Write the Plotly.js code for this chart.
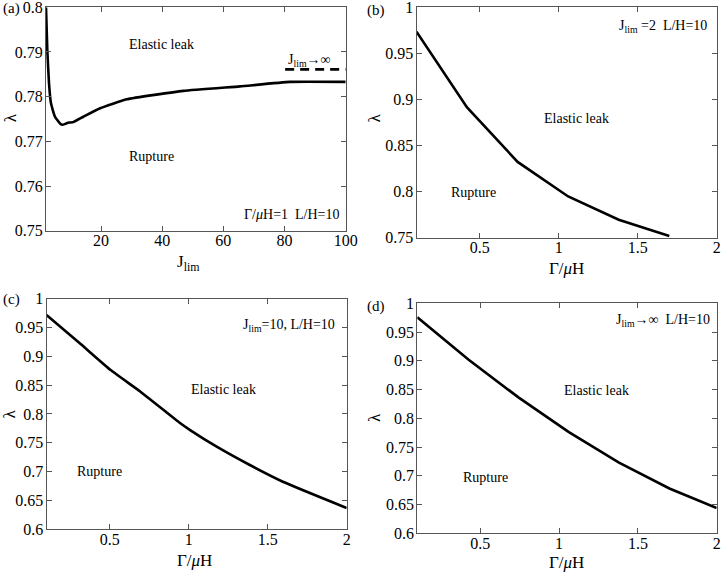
<!DOCTYPE html>
<html><head><meta charset="utf-8">
<script src="https://cdn.plot.ly/plotly-3.0.1.min.js"></script>
<style>body{margin:0;background:#fff}#g{width:722px;height:573px}</style>
</head><body><div id="g"></div>
<script>
// Panel (a): lambda vs J_lim (Gamma/muH=1, L/H=10)
const aJ   = [2, 2.43, 2.98, 3.63, 4.94, 6.58, 7.4, 8.6, 9.6, 10.9, 14.2, 19.7, 28.4, 46.9, 65.4, 81.8, 100];
const aLam = [0.800, 0.7904, 0.7830, 0.7785, 0.7755, 0.7740, 0.7737, 0.7740, 0.7742, 0.7743, 0.7755, 0.7774, 0.7794, 0.7813, 0.7823, 0.7833, 0.7833];
const aInfJ = [80.2, 100];
const aInfLam = [0.7861, 0.7861];
// Panel (b): J_lim=2
const bG   = [0.1, 0.42, 0.74, 1.06, 1.38, 1.70];
const bLam = [0.9733, 0.8910, 0.8320, 0.7945, 0.7692, 0.7517];
// Panel (c): J_lim=10
const cG   = [0.1, 0.318, 0.506, 0.695, 0.947, 1.009, 1.177, 1.387, 1.596, 2.0];
const cLam = [0.9714, 0.9206, 0.8760, 0.8385, 0.7837, 0.7720, 0.7432, 0.7114, 0.6825, 0.6370];
// Panel (d): J_lim -> infinity
const dG   = [0.1, 0.426, 0.744, 1.062, 1.38, 1.70, 2.0];
const dLam = [0.9760, 0.9020, 0.8360, 0.7760, 0.7230, 0.6780, 0.6440];

const xTicksA = [20, 40, 60, 80, 100];
const xTicksG = [0.5, 1, 1.5, 2];

const F = 'Liberation Serif, Times New Roman, serif';
const line = {color: 'black', width: 2.6};

const traces = [
  {x: aJ, y: aLam, xaxis: 'x', yaxis: 'y', mode: 'lines', line: Object.assign({shape: 'spline', smoothing: 0.4}, line)},
  {x: aInfJ, y: aInfLam, xaxis: 'x', yaxis: 'y', mode: 'lines', line: {color: 'black', width: 2.6, dash: '9px,6px'}},
  {x: bG, y: bLam, xaxis: 'x2', yaxis: 'y2', mode: 'lines', line: line},
  {x: cG, y: cLam, xaxis: 'x3', yaxis: 'y3', mode: 'lines', line: Object.assign({shape: 'spline', smoothing: 0.4}, line)},
  {x: dG, y: dLam, xaxis: 'x4', yaxis: 'y4', mode: 'lines', line: line}
];

function ax(domain, range, tickvals, dtick, anchor, isX) {
  const o = {domain: domain, range: range, anchor: anchor, showline: true, linecolor: '#555', linewidth: 1,
    mirror: 'ticks', ticks: 'inside', ticklen: 5, tickcolor: '#555', showgrid: false, zeroline: false,
    ticklabeloverflow: 'allow', ticklabelstandoff: isX ? -5 : -1,
    tickfont: {family: F, size: 16, color: 'black'}, fixedrange: true};
  if (tickvals) { o.tickmode = 'array'; o.tickvals = tickvals; o.ticktext = tickvals.map(String); }
  else { o.tick0 = 0; o.dtick = dtick; }
  return o;
}

const W = 722, H = 573;
const px = v => v / W, py = v => 1 - v / H;

const layout = {
  width: W, height: H, margin: {l: 0, r: 0, t: 0, b: 0}, showlegend: false,
  paper_bgcolor: 'white', plot_bgcolor: 'white', font: {family: F, color: 'black'},
  xaxis:  ax([px(46), px(345.7)], [2, 100], xTicksA, null, 'y', true),
  yaxis:  ax([py(230.7), py(7.3)], [0.75, 0.8], null, 0.01, 'x'),
  xaxis2: ax([px(416.5), px(716.7)], [0.1, 2], xTicksG, null, 'y2', true),
  yaxis2: ax([py(237.5), py(7)], [0.75, 1], null, 0.05, 'x2'),
  xaxis3: ax([px(46.5), px(346.7)], [0.1, 2], xTicksG, null, 'y3', true),
  yaxis3: ax([py(529.3), py(298.5)], [0.6, 1], null, 0.05, 'x3'),
  xaxis4: ax([px(417.3), px(716.7)], [0.1, 2], xTicksG, null, 'y4', true),
  yaxis4: ax([py(533.3), py(303.4)], [0.6, 1], null, 0.05, 'x4'),
  annotations: []
};

function note(text, x, y, opts) {
  layout.annotations.push(Object.assign({text: text, x: px(x), y: py(y), xref: 'paper', yref: 'paper',
    showarrow: false, font: {family: F, size: 14, color: 'black'}, xanchor: 'center', yanchor: 'middle'}, opts || {}));
}
// panel labels
note('(a)', 11, 9, {font: {family: F, size: 15}});
note('(b)', 376, 10, {font: {family: F, size: 15}});
note('(c)', 11, 299, {font: {family: F, size: 15}});
note('(d)', 376, 306, {font: {family: F, size: 15}});
// region labels
note('Elastic leak', 161.7, 44.3);
note('Rupture', 151.7, 156.7);
note('Elastic leak', 576, 118.3);
note('Rupture', 473.7, 192.7);
note('Elastic leak', 223.3, 389);
note('Rupture', 99.3, 471);
note('Elastic leak', 596, 390);
note('Rupture', 485, 477.7);
// parameter labels
note('Γ/<i>μ</i>H=1  L/H=10', 341, 215, {xanchor: 'right'});
note('J<sub>lim</sub>→∞', 309, 60);
note('J<sub>lim</sub> =2  L/H=10', 709, 27, {xanchor: 'right'});
note('J<sub>lim</sub>=10, L/H=10', 337, 325, {xanchor: 'right'});
note('J<sub>lim</sub>→∞  L/H=10', 712, 320, {xanchor: 'right'});
// axis titles
note('J<sub>lim</sub>', 188.3, 263, {font: {family: F, size: 17}});
note('Γ/<i>μ</i>H', 566, 268, {font: {family: F, size: 17}});
note('Γ/<i>μ</i>H', 195, 560, {font: {family: F, size: 17}});
note('Γ/<i>μ</i>H', 566, 562, {font: {family: F, size: 17}});
note('λ', 10, 118.3, {textangle: -90, font: {family: F, size: 17}});
note('λ', 374.3, 118.3, {textangle: -90, font: {family: F, size: 17}});
note('λ', 9.3, 414.3, {textangle: -90, font: {family: F, size: 17}});
note('λ', 374.3, 417.7, {textangle: -90, font: {family: F, size: 17}});

Plotly.newPlot('g', traces, layout, {displayModeBar: false, staticPlot: true});
</script></body></html>
